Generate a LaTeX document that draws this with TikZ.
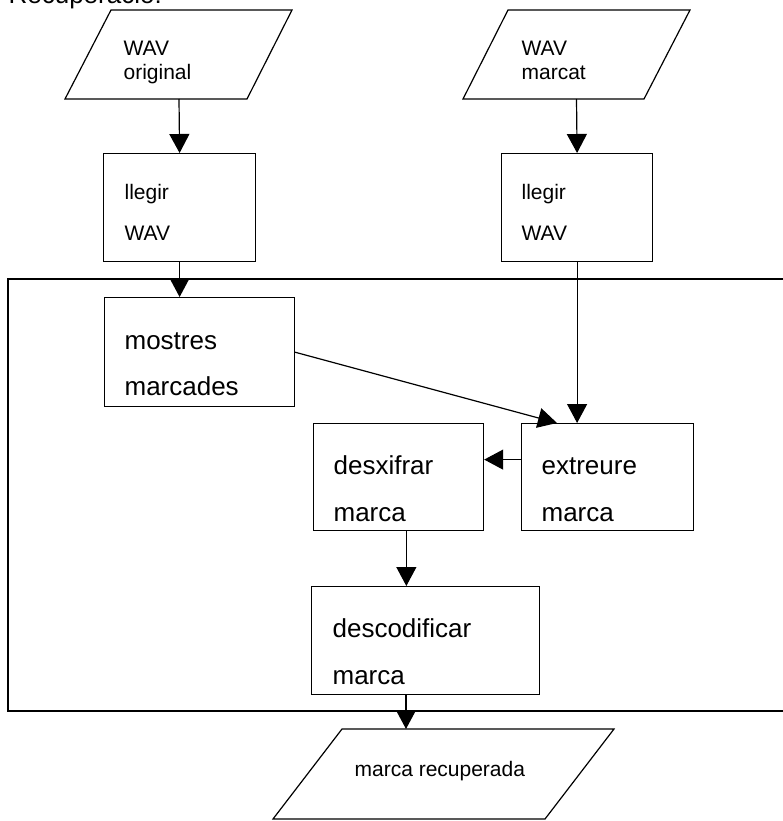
\documentclass[tikz,border=0pt]{standalone}
\usepackage{fontspec}
\setmainfont{Liberation Sans}
\usetikzlibrary{arrows.meta}
\begin{document}
\begin{tikzpicture}[x=1pt,y=-1pt,
  line width=1.2pt,
  proc/.style={draw, rectangle, inner sep=0pt, anchor=north west},
  arr/.style={-{Triangle[length=19pt,width=20pt]}},
  small/.style={anchor=base west, inner sep=0pt, font=\fontsize{21}{25}\selectfont},
  big/.style={anchor=base west, inner sep=0pt, font=\fontsize{26}{30}\selectfont}]
\useasboundingbox (0,0) rectangle (782,821);

% heading, partly above the page edge
\node[big] (title) at (8,4) {Recuperació:};

% input parallelograms
\draw (111,10) -- (292,10) -- (247,99) -- (65,99) -- cycle;
\coordinate (in1b) at (179,99);
\node[small] (in1a) at (123,56) {WAV};
\node[small] (in1c) at (123,80) {original};

\draw (508,10) -- (690,10) -- (644,99) -- (463,99) -- cycle;
\coordinate (in2b) at (576.5,99);
\node[small] (in2a) at (521,56) {WAV};
\node[small] (in2c) at (521,80) {marcat};

% reading boxes
\node[proc, minimum width=152pt, minimum height=108pt] (L1) at (103,153) {};
\node[small] (L1a) at (124,200) {llegir};
\node[small] (L1b) at (124,240) {WAV};

\node[proc, minimum width=151pt, minimum height=108pt] (L2) at (501,153) {};
\node[small] (L2a) at (521,200) {llegir};
\node[small] (L2b) at (521,240) {WAV};

% recovery frame
\draw (8,279) rectangle (800,711);

% processing boxes
\node[proc, minimum width=190pt, minimum height=109pt] (M) at (103.5,297) {};
\node[big] (Ma) at (124,349) {mostres};
\node[big] (Mb) at (124,395) {marcades};

\node[proc, minimum width=172pt, minimum height=107pt] (E) at (521,423) {};
\node[big] (Ea) at (541,474) {extreure};
\node[big] (Eb) at (541,521) {marca};

\node[proc, minimum width=170.5pt, minimum height=107pt] (D) at (312.5,423) {};
\node[big] (Da) at (333,474) {desxifrar};
\node[big] (Db) at (333,521) {marca};

\node[proc, minimum width=228pt, minimum height=108pt] (C) at (311,586) {};
\node[big] (Ca) at (332,637) {descodificar};
\node[big] (Cb) at (332,684) {marca};

% output parallelogram
\draw (342,729) -- (614,729) -- (545,819) -- (273,819) -- cycle;
\coordinate (outt) at (406,729);
\node[small] (outa) at (354,776) {marca recuperada};

% connectors
\draw[arr] (in1b) -- (L1.north);
\draw[arr] (in2b) -- (L2.north);
\draw[arr] (L1.south) -- (L1.south |- M.north);
\draw[arr] (L2.south) -- (L2.south |- E.north);
\draw[arr] (M.east) -- ([xshift=36pt]E.north west);
\draw[arr] ([yshift=17.5pt]E.west) -- ([yshift=17.5pt]E.west -| D.east);
\draw[arr] ([xshift=8pt]D.south) -- ([xshift=8pt]D.south |- C.north);
\draw[arr] (C.south -| outt) -- (outt);
\end{tikzpicture}
\end{document}
